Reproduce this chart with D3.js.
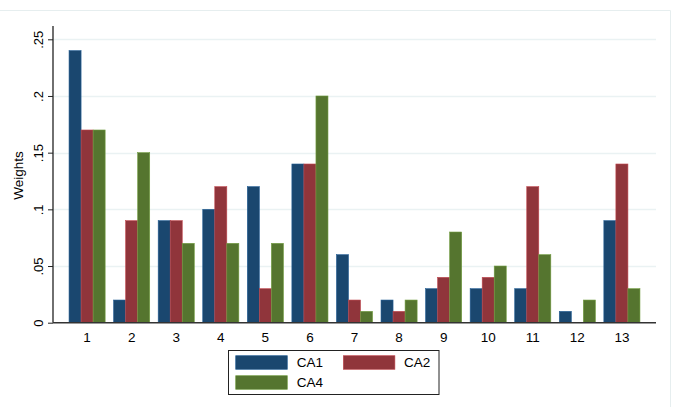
<!DOCTYPE html>
<html>
<head>
<meta charset="utf-8">
<script src="https://cdn.jsdelivr.net/npm/d3@7"></script>
<style>
html,body{margin:0;padding:0;background:#fff;}
svg{display:block;font-family:"Liberation Sans",Arial,sans-serif;}
</style>
</head>
<body>
<svg id="chart" width="673" height="407"></svg>
<script>
const categories = ["1","2","3","4","5","6","7","8","9","10","11","12","13"];
const seriesNames = ["CA1","CA2","CA4"];
const CA1 = [0.24,0.02,0.09,0.10,0.12,0.14,0.06,0.02,0.03,0.03,0.03,0.01,0.09];
const CA2 = [0.17,0.09,0.09,0.12,0.03,0.14,0.02,0.01,0.04,0.04,0.12,0,0.14];
const CA4 = [0.17,0.15,0.07,0.07,0.07,0.20,0.01,0.02,0.08,0.05,0.06,0.02,0.03];
const yTicks = [0,0.05,0.1,0.15,0.2,0.25];
const yTickLabels = ["0",".05",".1",".15",".2",".25"];

(function(){
const colors = ["#1a476f","#90353b","#55752f"];
const seriesValues = [CA1,CA2,CA4];

const svg = d3.select("#chart");
const pLeft = 53, pRight = 656, pTop = 39.3, pBottom = 322.7;

// outer frame (top and right edges visible)
svg.append("path").attr("d","M0,10.5H670.5V407")
  .attr("fill","none").attr("stroke","#e6eeef").attr("stroke-width",1);

const y = d3.scaleLinear().domain([0,0.25]).range([pBottom,pTop]);
const x = d3.scaleBand().domain(categories).range([pLeft,pRight]).paddingInner(0.19).paddingOuter(0.36);
const xs = d3.scaleBand().domain(seriesNames).range([0,x.bandwidth()]).padding(0);

// gridlines
svg.append("g").selectAll("line").data(yTicks.filter(d=>d>0)).join("line")
  .attr("x1",pLeft).attr("x2",pRight)
  .attr("y1",d=>Math.round(y(d))+0.5).attr("y2",d=>Math.round(y(d))+0.5)
  .attr("stroke","#eaf2f3").attr("stroke-width",1.5);

// bars
const rows = categories.map((c,i)=>({c, vals: seriesNames.map((s,j)=>({s, v: seriesValues[j][i], col: colors[j]}))}));
const g = svg.append("g").selectAll("g").data(rows).join("g")
  .attr("transform",d=>`translate(${x(d.c)},0)`);
g.selectAll("rect").data(d=>d.vals.filter(v=>v.v>0)).join("rect")
  .attr("x",d=>xs(d.s)).attr("width",xs.bandwidth())
  .attr("y",d=>y(d.v)).attr("height",d=>y(0)-y(d.v))
  .attr("fill",d=>d.col)
  .attr("stroke",d=>d3.color(d.col).brighter(0.8)).attr("stroke-width",0.6);

// y axis
const yAxis = d3.axisLeft(y).tickValues(yTicks).tickSize(5).tickFormat((d,i)=>yTickLabels[i]);
const ya = svg.append("g").attr("transform",`translate(${pLeft},0)`).call(yAxis);
ya.select(".domain").attr("stroke","#222").attr("stroke-width",1.3).attr("d",`M0,${pBottom}V26`);
ya.selectAll(".tick line").attr("stroke","#222");
ya.selectAll(".tick text").attr("x",null).attr("dy",null).attr("text-anchor","middle")
  .attr("transform","translate(-10.5,0) rotate(-90)")
  .attr("font-size",13).attr("fill","#000").attr("font-family","Liberation Sans, Arial, sans-serif");

// x axis
const xAxis = d3.axisBottom(x).tickSize(0).tickPadding(0);
const xa = svg.append("g").attr("transform",`translate(0,${pBottom})`).call(xAxis);
xa.select(".domain").attr("stroke","#333").attr("stroke-width",1.5).attr("d",`M${pLeft},0H${pRight}`);
xa.selectAll(".tick text").attr("y",19).attr("dy",null)
  .attr("font-size",13.5).attr("fill","#000").attr("font-family","Liberation Sans, Arial, sans-serif");

// y title
svg.append("text").attr("transform","translate(22.5,175.5) rotate(-90)")
  .attr("text-anchor","middle").attr("font-size",13.5).attr("fill","#000").text("Weights");

// legend
const lg = svg.append("g");
lg.append("rect").attr("x",228.5).attr("y",350.5).attr("width",210.5).attr("height",44)
  .attr("fill","#fff").attr("stroke","#222").attr("stroke-width",1);
const legendItems = [
  {name:seriesNames[0], col:colors[0], sx:235.7, sy:355.7, tx:296.7, ty:366.7},
  {name:seriesNames[1], col:colors[1], sx:343.3, sy:355.7, tx:404, ty:366.7},
  {name:seriesNames[2], col:colors[2], sx:235.7, sy:375.7, tx:296.7, ty:386.7}
];
legendItems.forEach(it=>{
  lg.append("rect").attr("x",it.sx).attr("y",it.sy).attr("width",51.6).attr("height",13.6)
    .attr("fill",it.col).attr("stroke",d3.color(it.col).brighter(0.8)).attr("stroke-width",0.6);
  lg.append("text").attr("x",it.tx).attr("y",it.ty).attr("font-size",13.5).attr("fill","#000").text(it.name);
});
})();
</script>
</body>
</html>
